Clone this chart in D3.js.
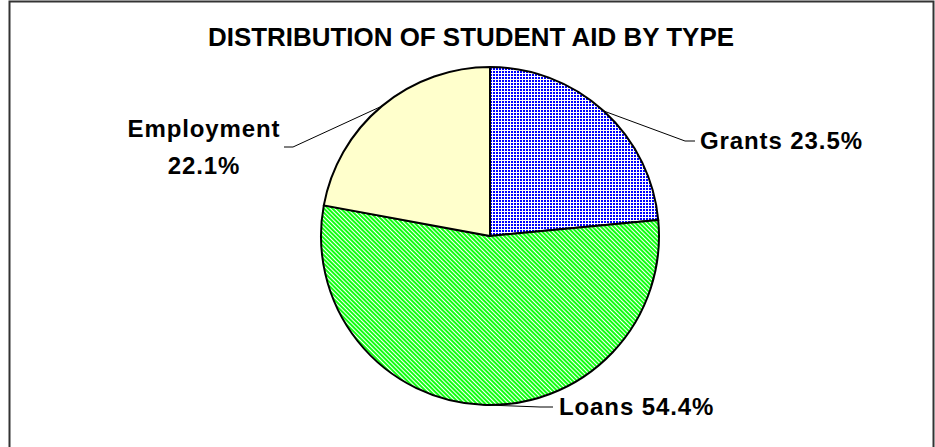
<!DOCTYPE html>
<html>
<head>
<meta charset="utf-8">
<script src="https://cdn.jsdelivr.net/npm/d3@7"></script>
<style>
  html, body { margin: 0; padding: 0; background: #fff; }
  svg { display: block; }
  text { font-family: "Liberation Sans", Arial, sans-serif; font-weight: bold; fill: #000; }
</style>
</head>
<body>
<div id="chart"></div>
<script>
const categories = ['Grants', 'Loans', 'Employment'];
const shares = [23.5, 54.4, 22.1];
const labelTexts = [['Grants 23.5%'], ['Loans 54.4%'], ['Employment', '22.1%']];

const width = 935, height = 447;
const cx = 490, cy = 236, radius = 169;

const svg = d3.select('#chart').append('svg')
  .attr('width', width)
  .attr('height', height);

// Fill patterns
const defs = svg.append('defs');

const grid = defs.append('pattern')
  .attr('id', 'pat-grants')
  .attr('patternUnits', 'userSpaceOnUse')
  .attr('width', 3).attr('height', 3);
grid.append('rect').attr('width', 3).attr('height', 3).attr('fill', '#fff');
grid.append('rect').attr('width', 2).attr('height', 2).attr('fill', '#0000ff')
  .attr('shape-rendering', 'crispEdges');

const hatch = defs.append('pattern')
  .attr('id', 'pat-loans')
  .attr('patternUnits', 'userSpaceOnUse')
  .attr('width', 3).attr('height', 3)
  .attr('patternTransform', 'rotate(-45)');
hatch.append('rect').attr('width', 3).attr('height', 3).attr('fill', '#fff');
hatch.append('rect').attr('width', 2).attr('height', 3).attr('fill', '#11ff11');

const fills = d3.scaleOrdinal()
  .domain(categories)
  .range(['url(#pat-grants)', 'url(#pat-loans)', '#ffffcc']);

// Frame
svg.append('rect')
  .attr('x', 9.5).attr('y', 1.5)
  .attr('width', 924).attr('height', 452)
  .attr('fill', 'none')
  .attr('stroke', '#333')
  .attr('stroke-width', 2);

// Title
svg.append('text')
  .attr('x', 471)
  .attr('y', 46)
  .attr('text-anchor', 'middle')
  .attr('font-size', '25px')
  .attr('textLength', 526)
  .attr('lengthAdjust', 'spacingAndGlyphs')
  .text('DISTRIBUTION OF STUDENT AID BY TYPE');

const data = categories.map((c, i) => ({ name: c, value: shares[i], lines: labelTexts[i] }));

const pie = d3.pie().sort(null).value(d => d.value);
const arcs = pie(data);
const arc = d3.arc().innerRadius(0).outerRadius(radius);

const g = svg.append('g').attr('transform', `translate(${cx},${cy})`);

g.selectAll('path')
  .data(arcs)
  .join('path')
  .attr('d', arc)
  .attr('fill', d => fills(d.data.name))
  .attr('stroke', '#000')
  .attr('stroke-width', 2)
  .attr('stroke-linejoin', 'round');

// Label layout: elbow point, end of leader, text anchor position (relative to pie centre)
const labelLayout = {
  Grants:     { elbow: [195, -95], end: [205, -95], tx: 210, ty: -87, anchor: 'start' },
  Loans:      { elbow: [50, 171],  end: [63, 171],  tx: 69,  ty: 179, anchor: 'start' },
  Employment: { elbow: [-197, -89], end: [-206, -89], tx: -286, ty: -99, anchor: 'middle' }
};

arcs.forEach(a => {
  const mid = (a.startAngle + a.endAngle) / 2;
  const edge = [Math.sin(mid) * radius, -Math.cos(mid) * radius];
  const L = labelLayout[a.data.name];

  g.append('polyline')
    .attr('points', [edge, L.elbow, L.end].map(p => p.join(',')).join(' '))
    .attr('fill', 'none')
    .attr('stroke', '#000')
    .attr('stroke-width', 1);

  const t = g.append('text')
    .attr('x', L.tx)
    .attr('y', L.ty)
    .attr('text-anchor', L.anchor)
    .attr('font-size', '24px')
    .attr('letter-spacing', '0.9px');
  a.data.lines.forEach((line, i) => {
    t.append('tspan')
      .attr('x', L.tx)
      .attr('dy', i === 0 ? 0 : 37)
      .text(line);
  });
});
</script>
</body>
</html>
